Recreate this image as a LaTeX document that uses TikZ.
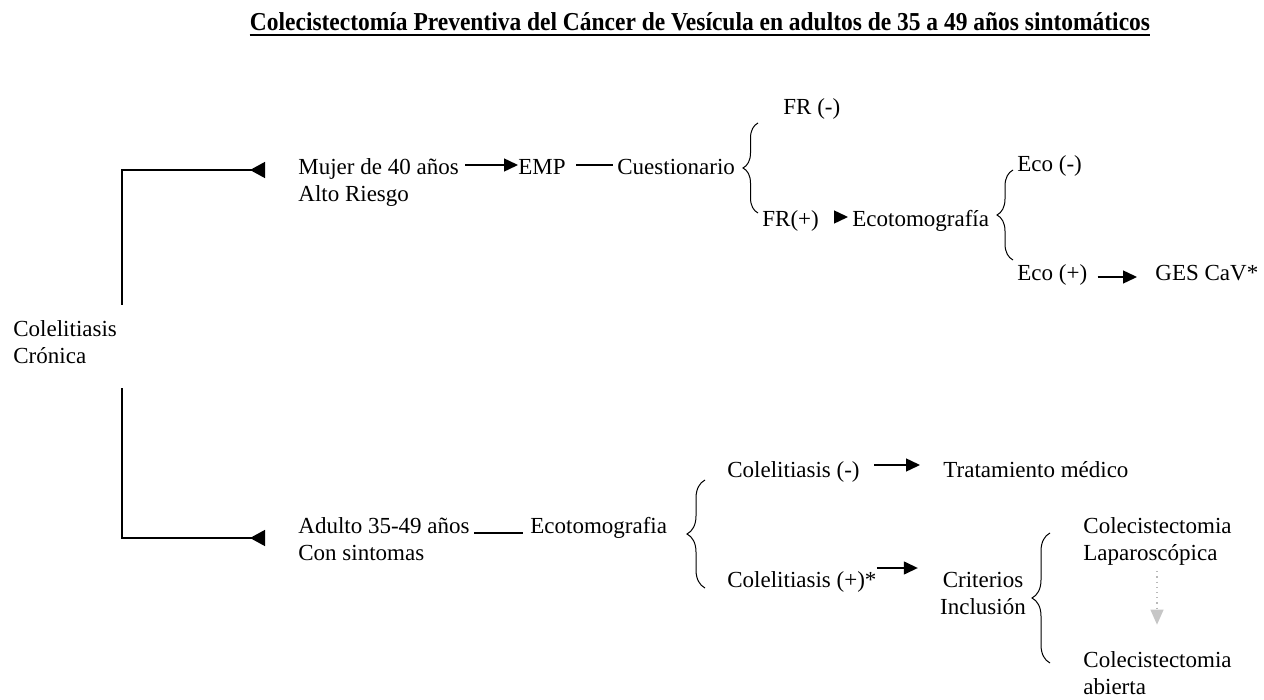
\documentclass[tikz,border=0pt]{standalone}
\usepackage{graphicx}
\usepackage{fontspec}
\setmainfont{Liberation Serif}
\usetikzlibrary{arrows.meta}
\usetikzlibrary{decorations.pathreplacing}
\tikzset{>={Triangle[length=7pt,width=6.5pt]}}

\begin{document}
\begin{tikzpicture}[x=0.5pt,y=-0.5pt,
    txt/.style={anchor=base west,inner sep=0pt,align=left,
      font=\fontsize{11.5}{13.5}\selectfont},
    conn/.style={line width=0.7pt},
    brc/.style={decorate,decoration={brace,amplitude=#1},line width=0.5pt},
    brc/.default=8pt]

  \useasboundingbox (0,0) rectangle (1264,700);

  % title
  \node[anchor=base,inner sep=0pt] (title) at (700,31)
    {\resizebox{450pt}{9pt}{\bfseries Colecistectomía Preventiva del Cáncer de Vesícula en adultos de 35 a 49 años sintomáticos}};
  \draw[line width=1.1pt] ([yshift=-2pt]title.base west) -- ([yshift=-2pt]title.base east);

  % left column (two-line nodes sit on their last line)
  \node[txt] (cronica) at (13,364) {Colelitiasis\\Crónica};
  \coordinate (ctop) at (122,305);
  \coordinate (cbot) at (122,388);
  \coordinate (mtip) at (265,170);
  \coordinate (atip) at (265,538);

  % upper branch
  \node[txt] (mujer) at (298,202) {Mujer de 40 años\\Alto Riesgo};
  \node[txt] (emp) at (518,175) {EMP};
  \node[txt] (cuest) at (617,175) {Cuestionario};
  \node[txt] (frneg) at (783,115) {FR (-)};
  \node[txt] (frpos) at (762,227) {FR(+)};
  \node[txt] (ecotop) at (852,227) {Ecotomografía};
  \node[txt] (econeg) at (1017,172) {Eco (-)};
  \node[txt] (ecopos) at (1017,281) {Eco (+)};
  \node[txt] (ges) at (1155,281) {GES CaV*};

  % lower branch
  \node[txt] (adulto) at (298,560) {Adulto 35-49 años\\Con sintomas};
  \node[txt] (ecobot) at (530,533) {Ecotomografia};
  \node[txt] (colneg) at (727,477) {Colelitiasis (-)};
  \node[txt] (tratam) at (943,477) {Tratamiento médico};
  \node[txt] (colpos) at (727,587) {Colelitiasis (+)*};
  \node[txt,anchor=base,align=center] (criter) at (983,614) {Criterios\\Inclusión};
  \node[txt] (lapar) at (1083,560) {Colecistectomia\\Laparoscópica};
  \node[txt] (abierta) at (1083,694) {Colecistectomia\\abierta};

  % connectors
  \draw[conn,-{Triangle[reversed,length=7.5pt,width=8pt]}] (ctop) |- (mtip);
  \draw[conn,-{Triangle[reversed,length=7.5pt,width=8pt]}] (cbot) |- (atip);

  \draw[conn,->] ([xshift=3pt,yshift=18.5pt]mujer.base east) -- ([yshift=5pt]emp.base west);
  \draw[conn] ([xshift=5pt,yshift=5pt]emp.base east) -- ([xshift=-2pt,yshift=5pt]cuest.base west);
  \draw[conn,->] ([xshift=7.5pt,yshift=5pt]frpos.base east) -- ([xshift=-2pt,yshift=5pt]ecotop.base west);
  \draw[conn,->] ([xshift=5pt,yshift=2pt]ecopos.base east) -- ([xshift=-9pt,yshift=2pt]ges.base west);

  \draw[conn] ([xshift=2pt,yshift=13.5pt]adulto.base east) -- ([xshift=-3.5pt]ecobot.base west);
  \draw[conn,->] ([xshift=7pt,yshift=6pt]colneg.base east) -- ([xshift=-11.5pt,yshift=6pt]tratam.base west);
  \draw[conn,->] ([yshift=9.5pt]colpos.base east) -- ([xshift=-11pt,yshift=23pt]criter.base west);
  \draw[gray!55,line width=0.6pt,dotted,-{Triangle[length=7.5pt,width=6.5pt,gray!45]}]
    ([xshift=37pt,yshift=-3pt]lapar.south west) -- ([xshift=37pt,yshift=13pt]abierta.north west);

  % braces
  \draw[brc=7.5pt] (758,213) -- (758,123);
  \draw[brc] (1013,260) -- (1013,170);
  \draw[brc=9pt] (705,588) -- (705,480);
  \draw[brc=9pt] (1050,663) -- (1050,533);

\end{tikzpicture}
\end{document}
